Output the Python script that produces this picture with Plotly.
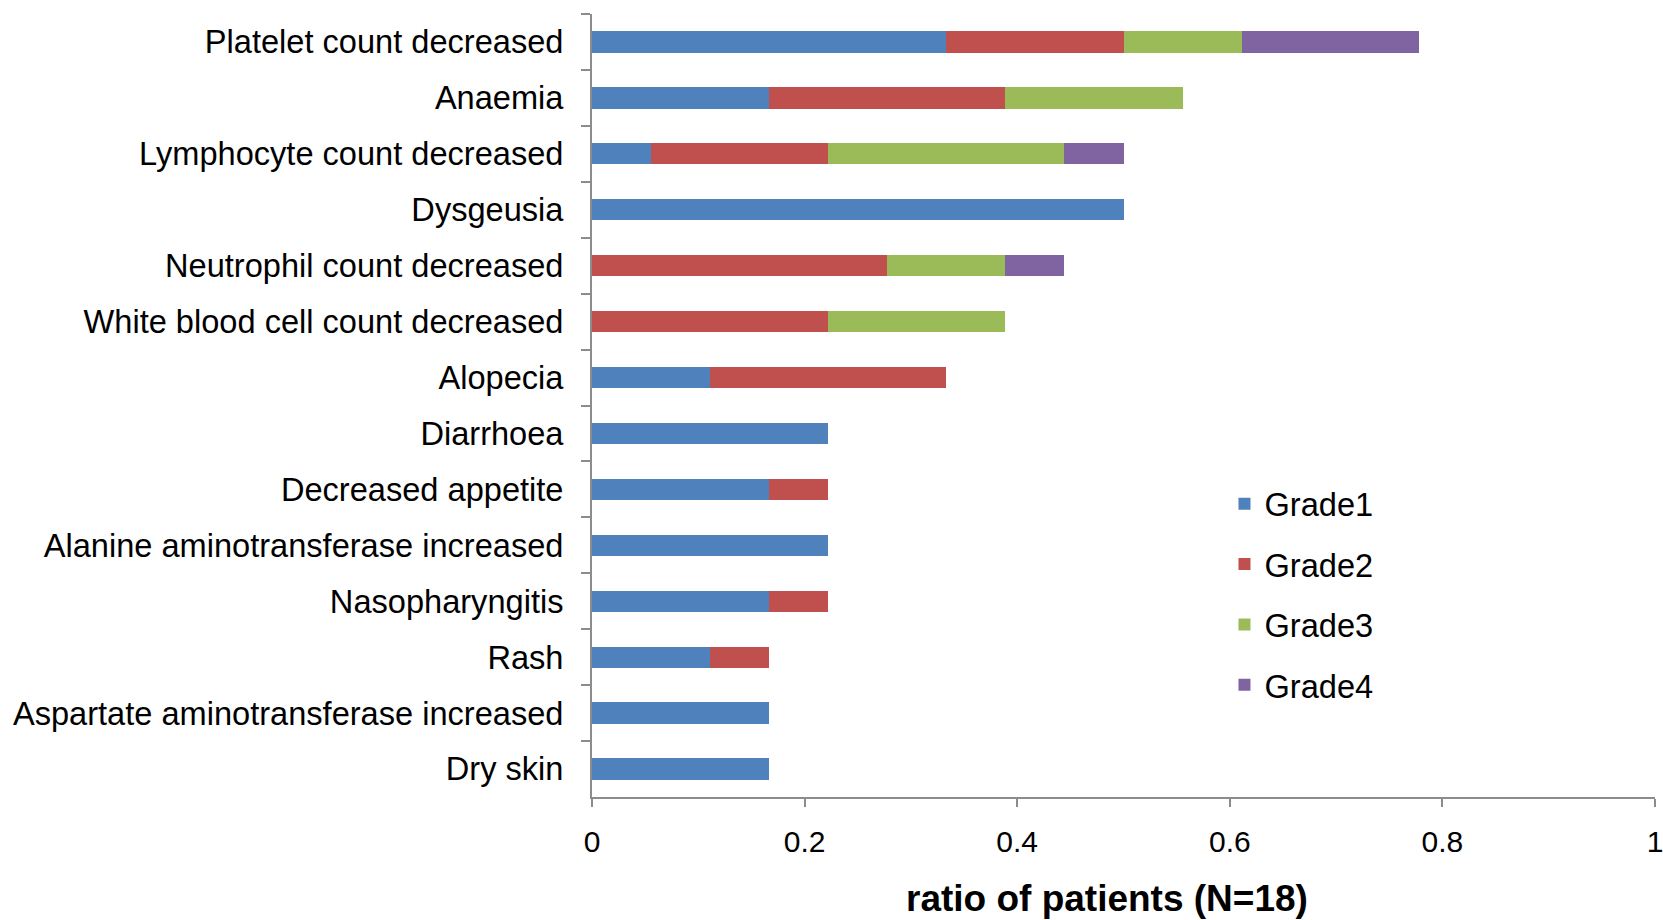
import plotly.graph_objects as go

N = 18
categories = [
    "Platelet count decreased",
    "Anaemia",
    "Lymphocyte count decreased",
    "Dysgeusia",
    "Neutrophil count decreased",
    "White blood cell count decreased",
    "Alopecia",
    "Diarrhoea",
    "Decreased appetite",
    "Alanine aminotransferase increased",
    "Nasopharyngitis",
    "Rash",
    "Aspartate aminotransferase increased",
    "Dry skin",
]
# number of patients per grade for each event
grade1 = [6, 3, 1, 9, 0, 0, 2, 4, 3, 4, 3, 2, 3, 3]
grade2 = [3, 4, 3, 0, 5, 4, 4, 0, 1, 0, 1, 1, 0, 0]
grade3 = [2, 3, 4, 0, 2, 3, 0, 0, 0, 0, 0, 0, 0, 0]
grade4 = [3, 0, 1, 0, 1, 0, 0, 0, 0, 0, 0, 0, 0, 0]

series = [
    ("Grade1", grade1, "#4F81BD"),
    ("Grade2", grade2, "#C0504D"),
    ("Grade3", grade3, "#9BBB59"),
    ("Grade4", grade4, "#8064A2"),
]

FONT = "Liberation Sans, Arial, sans-serif"

fig = go.Figure()
for name, counts, color in series:
    fig.add_trace(go.Bar(
        y=categories,
        x=[c / N for c in counts],
        name=name,
        orientation="h",
        marker=dict(color=color, line=dict(width=0)),
        legendgroup=name,
    ))

fig.update_layout(
    width=1663,
    height=920,
    barmode="stack",
    bargap=0.62,
    plot_bgcolor="white",
    paper_bgcolor="white",
    margin=dict(l=592, r=8, t=14, b=123),
    font=dict(family=FONT, color="black"),
    legend=dict(
        x=0.595, y=0.41, xanchor="left", yanchor="top",
        font=dict(size=32.6, family=FONT),
        traceorder="grouped",
        tracegroupgap=15,
        bgcolor="rgba(0,0,0,0)",
    ),
    xaxis=dict(
        range=[0, 1],
        tick0=0, dtick=0.2,
        showgrid=False, zeroline=False,
        showline=True, linecolor="#8c8c8c", linewidth=2,
        ticks="outside", ticklen=8, tickwidth=2, tickcolor="#8c8c8c",
        tickfont=dict(size=30, family=FONT),
        ticklabelstandoff=9,
        ticklabeloverflow="allow",
        automargin=False,
    ),
    yaxis=dict(
        autorange="reversed",
        showgrid=False,
        showline=True, linecolor="#8c8c8c", linewidth=2,
        ticks="outside", ticklen=9, tickwidth=2, tickcolor="#8c8c8c",
        tickson="boundaries",
        tickfont=dict(size=32.6, family=FONT),
        ticklabelstandoff=20,
        automargin=False,
    ),
    annotations=[dict(
        text="<b>ratio of patients (N=18)</b>",
        xref="paper", yref="paper",
        x=0.4845, y=-0.13, xanchor="center", yanchor="middle",
        showarrow=False,
        font=dict(size=37, family=FONT, color="black"),
    )],
)

fig.write_html("out.html")
